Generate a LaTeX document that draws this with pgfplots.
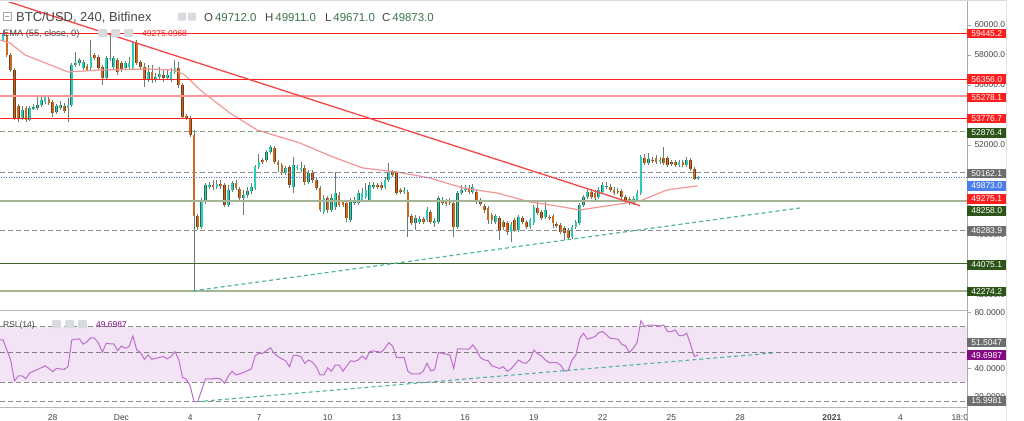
\documentclass[border=0pt]{standalone}
\usepackage{pgfplots}
\pgfplotsset{compat=1.18}
\usepackage{pgfplotstable}
\usepackage{fontspec}
\setmainfont{Liberation Sans}
\newcommand\fs[1]{\fontsize{#1}{#1}\selectfont}
\definecolor{upbody}{RGB}{42,205,188}
\definecolor{upedge}{RGB}{45,105,75}
\definecolor{dnbody}{RGB}{205,105,30}
\definecolor{dnedge}{RGB}{115,60,20}
\definecolor{wick}{RGB}{100,130,105}
\definecolor{lvred}{RGB}{255,30,30}
\definecolor{lvpink}{RGB}{255,150,150}
\definecolor{emac}{RGB}{245,150,150}
\definecolor{trred}{RGB}{245,70,70}
\definecolor{dgreen}{RGB}{45,85,25}
\definecolor{lgreen}{RGB}{60,100,40}
\definecolor{olive}{RGB}{165,180,150}
\definecolor{dashgray}{RGB}{140,140,140}
\definecolor{dashgreen}{RGB}{140,160,125}
\definecolor{bluep}{RGB}{80,120,230}
\definecolor{boxgray}{RGB}{110,110,110}
\definecolor{boxblue}{RGB}{75,125,235}
\definecolor{rsiline}{RGB}{190,110,205}
\definecolor{rsifill}{RGB}{242,228,244}
\definecolor{rsipurple}{RGB}{130,10,130}
\definecolor{tl}{RGB}{80,180,165}
\definecolor{txt}{RGB}{70,70,70}
\definecolor{ohlcg}{RGB}{60,115,75}
\definecolor{icon}{RGB}{215,218,222}

\pgfplotstableread{
i o h l c
0 58933 59667 58867 59467
1 59333 59467 57867 58000
2 58000 58133 56867 57000
3 57000 57133 53667 53800
4 54600 54733 53533 53800
5 53800 54600 53667 54333
6 54467 54600 53533 53667
7 53667 54600 53600 54467
8 54400 54733 54333 54533
9 54467 55333 54333 54667
10 54667 55267 54533 55000
11 54867 55333 54733 55200
12 55067 55267 54667 54800
13 54867 55000 53867 54133
14 54200 54733 54067 54600
15 54467 54933 54333 54667
16 54600 54800 54133 54267
17 54467 55133 53533 54667
18 54667 57467 54533 57333
19 57333 58200 57200 57467
20 57467 57800 57267 57667
21 57133 57667 57000 57533
22 57267 57400 56933 57000
23 57133 59000 57000 57867
24 58000 58133 57667 57800
25 57867 58000 57000 57133
26 57200 57333 56000 56467
27 56467 57933 56333 57800
28 57733 59333 57600 57800
29 57200 57933 57067 57800
30 57667 57800 56667 56867
31 57467 57600 56867 57000
32 57133 57600 57000 57467
33 57200 57867 57067 57467
34 57133 58933 57000 58800
35 58800 59000 57333 57467
36 57533 57667 57067 57200
37 57200 57467 55867 56333
38 56333 57333 56200 56867
39 56867 57333 56133 56333
40 56333 56800 56200 56533
41 56533 57200 56333 56733
42 56667 57000 56200 56467
43 56467 57000 56333 56667
44 56333 57133 56200 56867
45 56867 57667 56733 57133
46 57133 57533 55800 56000
47 56000 56133 53800 53867
48 53933 54067 53667 53800
49 53800 53933 52533 52667
50 52667 53000 42274 47267
51 47267 47400 46333 46533
52 46533 48467 46400 48333
53 48200 49467 48067 49333
54 49200 49533 49067 49333
55 49333 49667 49000 49200
56 49200 49667 49067 49400
57 49400 49667 49067 49267
58 49333 49467 47867 48000
59 48000 49333 47867 49000
60 49000 49600 48867 49467
61 49467 49667 49000 49133
62 49067 49200 48267 48467
63 48467 49000 47333 48667
64 48667 49200 48467 48933
65 48933 49467 48733 49200
66 49133 50667 49000 50533
67 50533 51400 50400 50867
68 51000 51133 50733 50867
69 51000 51667 50867 51533
70 51533 52000 51400 51867
71 51800 51933 50733 50867
72 50867 51000 50200 50667
73 50667 50800 50000 50133
74 50133 50600 50000 50467
75 50533 50667 49133 49333
76 49200 51200 48800 50667
77 50467 50667 50333 50533
78 50333 50867 50200 50467
79 50467 50667 49333 49533
80 49533 50333 49400 50133
81 50133 50333 49467 49667
82 49667 49867 49000 49133
83 49133 49267 47533 47667
84 47533 48667 47400 48467
85 48467 48600 47467 47667
86 47667 48733 47533 48467
87 47867 50200 47667 48800
88 48667 48867 47867 48000
89 48200 48333 47867 48000
90 48133 48333 46867 47133
91 47000 48467 46867 48333
92 48133 48533 48000 48333
93 48133 49000 48000 48800
94 48333 49133 48200 48800
95 48533 49467 48400 49000
96 48333 49533 48200 49333
97 49200 49533 49067 49333
98 49333 49467 49067 49200
99 49333 49533 49000 49133
100 49200 49867 49067 49667
101 49667 50800 49533 50200
102 50200 50333 49867 50000
103 50133 50267 48667 48800
104 49000 49133 48733 48867
105 48867 49200 48733 49000
106 48867 49000 45867 47200
107 47267 47400 46667 46800
108 46800 47333 46333 47133
109 46867 47267 46733 47067
110 47067 47200 46733 46867
111 47000 47867 46867 47667
112 47533 47667 46733 46867
113 46800 47133 46533 46933
114 46867 48600 46733 48467
115 48333 48533 48000 48133
116 48200 48400 47933 48067
117 48333 48467 48000 48133
118 48133 48267 45867 46533
119 46533 48933 46400 48800
120 48800 49333 48667 49000
121 49000 49333 48867 49133
122 49133 49333 48733 48867
123 48867 49400 48733 49200
124 48867 49000 48067 48200
125 48333 48467 47933 48067
126 47933 48067 47467 47667
127 47800 47933 46733 47000
128 47333 47467 46733 47000
129 46867 47400 46733 47267
130 47133 47267 45667 46333
131 46867 47000 46333 46533
132 46800 46933 46000 46200
133 46200 46867 45533 46667
134 47000 47133 46200 46333
135 46333 47333 46200 47200
136 47133 47267 46733 46867
137 46867 47000 46400 46533
138 46533 47133 46400 47000
139 46800 48000 46667 47867
140 47800 48200 47333 47467
141 47533 47667 47000 47133
142 47200 48333 47067 47667
143 47200 47333 47000 47133
144 47267 47400 46467 46800
145 46733 46867 46467 46600
146 46667 46800 46067 46200
147 46467 46600 45667 46133
148 46333 46467 45667 45800
149 45867 46667 45733 46533
150 46533 47000 46400 46867
151 46800 48133 46667 48000
152 48000 48667 47867 48533
153 48533 49133 48400 48867
154 48867 49067 48400 48533
155 48800 49000 48333 48467
156 48533 49200 48400 49000
157 48867 49533 48733 49333
158 49200 49533 49067 49267
159 49200 49400 48867 49000
160 49000 49200 48667 48800
161 48933 49133 48733 48867
162 48933 49067 48400 48533
163 48533 48667 48067 48200
164 48400 48533 48000 48133
165 48133 48600 48000 48400
166 48333 49000 48200 48800
167 48800 51333 48667 51200
168 51133 51400 50667 50800
169 50800 51467 50667 51067
170 51000 51200 50800 50933
171 51133 51333 50733 50867
172 50867 51200 50733 51000
173 51133 51867 50667 50800
174 51133 51267 50533 50667
175 50867 51000 50600 50733
176 50867 51000 50533 50667
177 50667 51000 50533 50867
178 50867 51000 50533 50667
179 50667 51200 50533 51000
180 51000 51133 50267 50400
181 50400 50533 49667 49733
182 49712 49911 49671 49873
}\candles

\pgfplotstableread{
i e
-0.8 59000
1.8 58800
5.8 58000
17.0 56867
25.4 57000
38.5 57067
45.0 57000
47.6 56667
51.6 55667
59.4 54133
66.5 53000
69.1 52800
77.7 52133
86.4 51200
94.2 50467
103.1 50200
111.8 49800
120.4 49133
129.3 48800
138.0 48200
146.6 47867
151.0 47667
159.7 48000
166.8 48267
173.8 49000
181.9 49275
}\ema

\pgfplotstableread{
i r
-0.8 60.4
0 60.4
1 53.2
2 46.0
3 30.9
4 34.5
5 34.5
6 32.5
7 36.8
8 37.9
10 40.4
11 41.8
12 39.9
13 37.6
14 39.9
16 39.2
17 41.1
18 60.4
19 61.0
20 61.1
21 57.3
22 59.2
23 62.0
24 61.6
25 58.0
26 51.5
27 58.0
28 57.6
29 57.6
30 52.7
31 56.0
32 54.4
33 55.6
34 63.2
35 53.2
36 51.3
37 46.5
38 49.6
39 46.5
40 47.2
42 48.4
43 46.8
44 48.4
45 52.0
46 46.5
47 33.5
48 32.1
49 27.3
50 16.0
51 16.0
52 24.4
53 32.3
54 32.3
56 32.8
57 32.3
58 29.2
59 34.5
60 37.9
61 35.2
63 37.0
65 39.5
66 48.9
67 50.8
68 50.8
70 54.8
71 50.8
72 48.4
73 46.8
74 45.4
75 41.2
76 49.2
77 49.2
78 48.4
79 43.6
80 46.0
81 44.4
82 41.2
83 35.2
84 35.2
85 40.4
86 37.9
87 42.3
88 42.3
89 37.9
90 41.7
91 45.3
92 45.0
93 46.0
94 48.9
95 46.5
96 52.0
97 52.5
99 51.5
100 54.4
101 58.4
102 56.0
103 47.9
104 47.7
105 47.9
106 37.9
107 35.9
109 35.9
110 37.9
111 43.6
112 38.1
113 39.0
114 51.3
115 50.8
117 49.6
118 39.9
119 53.9
120 53.9
122 53.7
123 56.8
124 53.2
125 47.7
126 46.0
127 45.5
128 41.8
130 39.9
131 41.1
132 37.9
133 39.5
135 46.0
136 44.1
137 43.6
138 46.5
139 53.2
140 50.3
141 48.9
142 46.0
143 44.1
145 44.0
146 42.3
147 37.9
148 38.6
149 46.0
150 49.6
151 61.6
152 65.2
153 60.9
155 62.8
156 65.7
157 66.4
158 64.0
159 61.6
161 60.9
162 57.3
163 56.1
164 51.3
165 54.4
166 58.4
167 74.2
168 69.9
169 71.1
170 71.1
172 70.4
173 71.1
174 66.4
175 66.4
176 67.6
177 63.5
178 63.5
179 65.2
180 57.3
181 48.4
182 49.6987
}\rsi

\newcommand\plab[3]{\node[anchor=west, fill=#1, text=white, inner sep=0pt, minimum width=39bp, minimum height=9.5bp, font=\fs{8.5}] at (967bp,-#2bp) {#3};}
\newcommand\hlev[2]{\addplot[#1] coordinates {(-5,#2) (260,#2)};}
\pgfplotsset{candle/.style={draw=none, mark=none, forget plot, unbounded coords=discard,
  error bars/.cd, y dir=plus, y explicit, error mark=none}}

\begin{document}
\begin{tikzpicture}
\useasboundingbox (0,0) rectangle (1024bp,-421bp);
\fill[white] (0,0) rectangle (1024bp,-421bp);

\begin{axis}[
  at={(0bp,-310bp)}, anchor=south west,
  width=967bp, height=308bp, scale only axis,
  xmin=-0.8, xmax=252.4, ymin=41000, ymax=61533,
  axis line style={draw=none},
  xtick=\empty,
  ytick={42000,44000,...,60000},
  yticklabels={42000.0,,46000.0,,,52000.0,,56000.0,58000.0,60000.0},
  ytick pos=right, yticklabel pos=right,
  tick align=outside, major tick length=4bp,
  tick style={draw=gray!70, line width=0.6bp},
  yticklabel style={font=\fs{8.5}, text=txt},
]
% candles: wicks
\addplot[candle, error bar style={line width=0.9bp, draw=wick}]
  table[x=i, y=l, y error expr=\thisrow{h}-\thisrow{l}] {\candles};
% up bodies
\addplot[candle, error bar style={line width=2.7bp, draw=upedge}]
  table[x=i, y expr={\thisrow{c}>=\thisrow{o} ? \thisrow{o} : nan}, y error expr=\thisrow{c}-\thisrow{o}] {\candles};
\addplot[candle, error bar style={line width=1.8bp, draw=upbody}]
  table[x=i, y expr={\thisrow{c}>=\thisrow{o} ? \thisrow{o} : nan}, y error expr=\thisrow{c}-\thisrow{o}] {\candles};
% down bodies
\addplot[candle, error bar style={line width=2.7bp, draw=dnedge}]
  table[x=i, y expr={\thisrow{c}<\thisrow{o} ? \thisrow{c} : nan}, y error expr=\thisrow{o}-\thisrow{c}] {\candles};
\addplot[candle, error bar style={line width=1.8bp, draw=dnbody}]
  table[x=i, y expr={\thisrow{c}<\thisrow{o} ? \thisrow{c} : nan}, y error expr=\thisrow{o}-\thisrow{c}] {\candles};

% EMA
\addplot[emac, line width=1.2bp, mark=none] table[x=i, y=e] {\ema};
% horizontal levels
\hlev{lvred, line width=1bp}{59445.2}
\hlev{lvred, line width=1bp}{56356.0}
\hlev{lvpink, line width=2bp}{55278.1}
\hlev{lvred, line width=1bp}{53776.7}
\hlev{dashgreen, line width=1bp, dash pattern=on 5bp off 3bp}{52876.4}
\hlev{dashgray, line width=1bp, dash pattern=on 5bp off 3bp}{50162.1}
\hlev{bluep, line width=0.8bp, dash pattern=on 1bp off 1.5bp}{49873.0}
\hlev{olive, line width=2bp}{48258.0}
\hlev{dashgray, line width=1bp, dash pattern=on 5bp off 3bp}{46283.9}
\hlev{lgreen, line width=1.1bp}{44075.1}
\hlev{olive, line width=2.5bp}{42274.2}
% trendlines
\addplot[trred, line width=1.3bp, mark=none] coordinates {(0,61667) (166.8,47953)};
\addplot[tl, line width=1.2bp, mark=none, dash pattern=on 4bp off 3bp] coordinates {(49.7,42274) (208.6,47800)};
\end{axis}

\begin{axis}[
  at={(0bp,-407bp)}, anchor=south west,
  width=967bp, height=96bp, scale only axis,
  xmin=-0.8, xmax=252.4, ymin=12.16, ymax=81.2,
  axis line style={draw=none},
  xtick={13,31,49,67,85,103,121,139,157,175,193,217,235,250.5},
  xticklabels={28,Dec,4,7,10,13,16,19,22,25,28,\textbf{2021},4,18:0},
  xtick pos=bottom, xticklabel pos=bottom,
  xticklabel style={font=\fs{8.5}, text=txt, inner sep=0pt, yshift=-3.5bp, anchor=north},
  x tick style={draw=none},
  ytick={20,40,60,80},
  yticklabels={20.0000,40.0000,,80.0000},
  ytick pos=right, yticklabel pos=right,
  tick align=outside, major tick length=4bp,
  y tick style={draw=gray!70, line width=0.6bp},
  yticklabel style={font=\fs{8.5}, text=txt},
]
\addplot[fill=rsifill, draw=none, mark=none] coordinates {(-5,30) (260,30) (260,70) (-5,70)} -- cycle;
\hlev{dashgray, line width=0.9bp, dash pattern=on 5bp off 3bp}{70}
\hlev{dashgray, line width=0.9bp, dash pattern=on 5bp off 3bp}{30}
\hlev{gray, line width=0.9bp, dash pattern=on 5bp off 3bp}{51.5047}
\hlev{dashgray, line width=0.9bp, dash pattern=on 5bp off 3bp}{15.9981}
\addplot[rsiline, line width=1bp, mark=none] table[x=i, y=r] {\rsi};
\addplot[tl, line width=1.1bp, mark=none, dash pattern=on 4bp off 3bp] coordinates {(50.8,16.0) (201.8,51.0)};
\end{axis}

% frame and separators
\draw[gray!30, line width=0.8bp] (0,-0.6bp) -- (1006bp,-0.6bp);
\draw[gray!55, line width=0.8bp] (0,-310.5bp) -- (967bp,-310.5bp);
\draw[gray!55, line width=0.8bp] (0,-407.5bp) -- (967bp,-407.5bp);
\draw[gray!65, line width=0.9bp] (967bp,-1bp) -- (967bp,-421bp);
\draw[gray!25, line width=0.8bp] (1006bp,0) -- (1006bp,-421bp);

% price labels
\plab{lvred}{33.5}{59445.2}
\plab{lvred}{79.2}{56356.0}
\plab{lvred}{97.5}{55278.1}
\plab{lvred}{118.5}{53776.7}
\plab{dgreen}{132.8}{52876.4}
\plab{boxgray}{173.5}{50162.1}
\plab{boxblue}{185.8}{49873.0}
\plab{lvred}{198.8}{49275.1}
\plab{dgreen}{210.8}{48258.0}
\plab{boxgray}{230.8}{46283.9}
\plab{dgreen}{265}{44075.1}
\plab{dgreen}{291.7}{42274.2}
\plab{boxgray}{342.5}{51.5047}
\plab{rsipurple}{355.2}{49.6987}
\plab{boxgray}{400.8}{15.9981}

% legend texts
\draw[gray!70, line width=0.6bp] (3bp,-12.5bp) rectangle (11bp,-20.5bp);
\draw[gray!70, line width=0.6bp] (5bp,-16.5bp) -- (9bp,-16.5bp);
\node[anchor=base west, inner sep=0pt, font=\fs{13}, text=txt] at (16bp,-21.5bp) {BTC/USD, 240, Bitfinex};
\fill[icon, rounded corners=1bp] (178bp,-12.5bp) rectangle (186bp,-20.5bp);
\fill[icon, rounded corners=1bp] (188bp,-12.5bp) rectangle (196bp,-20.5bp);
\node[anchor=base west, inner sep=0pt, font=\fs{11.5}] at (204bp,-21.5bp) {\textcolor{txt}{O}\,\textcolor{ohlcg}{49712.0}};
\node[anchor=base west, inner sep=0pt, font=\fs{11.5}] at (265bp,-21.5bp) {\textcolor{txt}{H}\,\textcolor{ohlcg}{49911.0}};
\node[anchor=base west, inner sep=0pt, font=\fs{11.5}] at (325bp,-21.5bp) {\textcolor{txt}{L}\,\textcolor{ohlcg}{49671.0}};
\node[anchor=base west, inner sep=0pt, font=\fs{11.5}] at (382bp,-21.5bp) {\textcolor{txt}{C}\,\textcolor{ohlcg}{49873.0}};

\node[anchor=base west, inner sep=0pt, font=\fs{9.3}, text=txt] at (3bp,-36.5bp) {EMA (55, close, 0)};
\fill[icon, rounded corners=1bp] (98bp,-29bp) rectangle (107bp,-37bp);
\fill[icon, rounded corners=1bp] (111bp,-29bp) rectangle (120bp,-37bp);
\fill[icon, rounded corners=1bp] (124bp,-29bp) rectangle (133bp,-37bp);
\node[anchor=base west, inner sep=0pt, font=\fs{8.5}, text=lvred] at (142bp,-36.5bp) {49275.0968};

\node[anchor=base west, inner sep=0pt, font=\fs{8.5}, text=txt] at (3bp,-327.5bp) {RSI (14)};
\fill[icon, rounded corners=1bp] (52bp,-320bp) rectangle (61bp,-328bp);
\fill[icon, rounded corners=1bp] (65bp,-320bp) rectangle (74bp,-328bp);
\fill[icon, rounded corners=1bp] (78bp,-320bp) rectangle (87bp,-328bp);
\node[anchor=base west, inner sep=0pt, font=\fs{8.5}, text=rsipurple] at (96bp,-327.5bp) {49.6987};
\end{tikzpicture}
\end{document}
